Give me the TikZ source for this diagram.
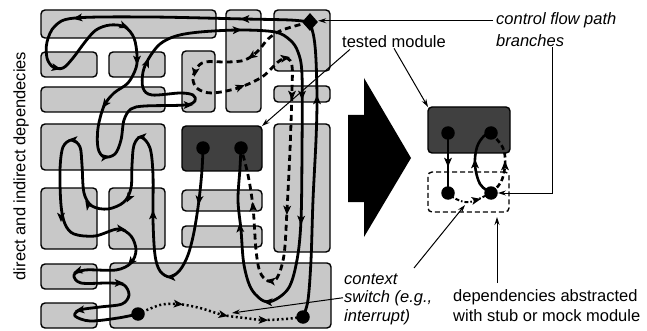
\documentclass[tikz,border=0pt]{standalone}
\usepackage{fontspec}
\setmainfont{Liberation Sans}
\usetikzlibrary{arrows.meta,shapes.geometric,calc}
\definecolor{boxgray}{RGB}{200,200,200}
\definecolor{modgray}{RGB}{64,64,64}
\newcommand\mkbox[5]{\node[box, minimum width={(#4-#2)*1pt}, minimum height={(#5-#3)*1pt}] (#1) at (#2,#3) {};}
\newcommand\fa[3]{\fill[shift={(#1,#2)}, rotate=#3, x=1pt, y=1pt] (5,0) -- (-4.4,4) -- (-2,0) -- (-4.4,-4) -- cycle;}
\begin{document}
\begin{tikzpicture}[x=1pt,y=-1pt,
  box/.style={draw=black, fill=boxgray, line width=1.4pt, rounded corners=4pt, inner sep=0pt, outer sep=0pt, anchor=north west},
  dot/.style={circle, fill=black, inner sep=0pt, minimum size=13.5pt},
  flow/.style={line width=2.8pt, line cap=round, line join=round},
  dashflow/.style={line width=2.8pt, dash pattern=on 6pt off 4pt},
  dotflow/.style={line width=2.5pt, dash pattern=on 2pt off 2.6pt},
  lbl/.style={font=\fontsize{16.5}{19}\selectfont, inner sep=0pt},
  itl/.style={font=\fontsize{16.5}{19}\selectfont\itshape, inner sep=0pt},
  ann/.style={line width=1pt, -{Stealth[length=8pt,width=5pt]}}
]
\useasboundingbox (0,0) rectangle (647,331);

% modules of the left system
\mkbox{b1}{41}{10}{216}{38}
\mkbox{b2}{226}{10}{261}{112}
\mkbox{b3}{274}{10}{330}{71}
\mkbox{b4}{41}{52}{97}{77}
\mkbox{b5}{109}{52}{165}{77}
\mkbox{b6}{182}{51}{215}{112}
\mkbox{b7}{41}{87}{165}{112}
\mkbox{b8}{274}{86}{330}{102}
\mkbox{b9}{41}{124}{165}{170}
\mkbox{b10}{274}{124}{330}{252}
\mkbox{b11}{41}{188}{97}{249}
\mkbox{b12}{109}{188}{165}{249}
\mkbox{b13}{182}{190}{262}{211}
\mkbox{b14}{182}{226}{262}{247}
\mkbox{b15}{41}{264}{97}{289}
\mkbox{b16}{41}{303}{97}{328}
\mkbox{b17}{110}{263}{331}{328}
\node[box, fill=modgray, minimum width=80pt, minimum height=45pt] (tested) at (182,126) {};

% modules of the right system
\node[box, fill=modgray, minimum width=82pt, minimum height=46pt] (rtested) at (428,107) {};
\node[box, fill=none, dash pattern=on 5pt off 3pt, minimum width=81pt, minimum height=40pt] (mock) at (428,172) {};

% anchor points of the flows
\coordinate (ldc) at (203,148);
\coordinate (rdc) at (241,148);
\coordinate (bldc) at (138,314);
\coordinate (brdc) at (303,317);
\coordinate (diac) at (310,22);
\coordinate (r1c) at (448,133);
\coordinate (r2c) at (491,133);
\coordinate (r3c) at (448,193);
\coordinate (r4c) at (491,193);

% path from the left dot of the tested module
\draw[flow] plot[smooth, tension=0.55] coordinates {(ldc) (202,170) (199,200) (194,232) (188,255) (180,270) (170,277) (160,271) (155,255) (153,220) (153,175) (150,148) (141,137) (134,145) (132,165) (131,188) (124,202) (108,209) (92,206) (84,193) (82,165) (80,147) (72,140) (63,147) (60,170) (61,205) (65,224) (74,234) (95,236) (118,229) (131,236) (136,250) (131,263) (116,270) (85,270) (74,275) (81,283) (110,283) (124,285) (129,295) (122,304) (100,307) (80,310) (75,316) (90,321) (118,318) (bldc)};
\fa{199}{200}{-97} \fa{171}{277}{180} \fa{153}{215}{90} \fa{142}{137}{178}
\fa{129}{198}{-117} \fa{88}{205}{122} \fa{73}{140}{178} \fa{61}{217}{-90}
\fa{121}{229}{-8} \fa{131}{262}{-128} \fa{78}{271}{-162} \fa{119}{283}{0}
\fa{80}{310}{-172}

% solid branch from the decision to the right dot
\draw[flow] plot[smooth, tension=0.55] coordinates {(diac) (290,20) (245,19) (150,17) (75,18) (55,26) (47,42) (47,58) (53,67) (63,68) (73,58) (85,42) (96,30) (110,25) (125,27) (134,38) (137,55) (136,68) (128,83) (114,93) (104,106) (98,128) (98,148) (104,157) (115,154) (121,140) (124,120) (131,109) (145,106) (185,105) (195,101) (193,95) (180,93) (152,95) (143,88) (143,72) (149,58) (160,44) (176,36) (200,32) (240,30) (275,32) (290,40) (298,52) (302,75) (302,150) (301,220) (297,260) (288,289) (268,302) (252,290) (244,265) (241,230) (238,200) (240,168) (rdc)};
\fa{245}{19}{180} \fa{78}{18}{-172} \fa{56}{68}{-12} \fa{124}{26}{-20}
\fa{137}{60}{-90} \fa{105}{104}{-127} \fa{105}{157}{8} \fa{188}{105}{0}
\fa{147}{63}{67} \fa{237}{30}{3} \fa{302}{95}{-90} \fa{301}{220}{-92}
\fa{268}{302}{176} \fa{240}{228}{95}

% dashed branch from the decision to the right dot
\draw[dashflow] plot[smooth, tension=0.55] coordinates {(diac) (295,26) (280,31) (268,39) (258,51) (245,60) (228,62) (205,62) (196,69) (193,80) (198,89) (212,93) (238,88) (262,77) (278,62) (287,58) (292,66) (292,90) (290,150) (287,210) (284,255) (277,278) (268,281) (260,272) (256,250) (253,207) (248,175) (rdc)};
\fa{252}{56}{-145} \fa{195}{72}{-100} \fa{240}{87}{20} \fa{285}{58}{10}
\fa{292}{95}{-90} \fa{287}{210}{-92} \fa{271}{281}{172} \fa{253}{207}{94}

% return path to the decision
\draw[flow] plot[smooth, tension=0.55] coordinates {(brdc) (308,300) (311,260) (313,200) (316,140) (317,100) (316,60) (314,38) (diac)};
\fa{317}{100}{90}

% context switch
\draw[dotflow] plot[smooth, tension=0.55] coordinates {(bldc) (160,305) (178,304) (200,308) (223,315) (245,318) (263,320) (285,319) (brdc)};
\fa{178}{304}{-5} \fa{223}{315}{-12} \fa{263}{320}{-2}

% right system flows
\draw[flow, line width=2.6pt] (r1c) -- (r3c);
\fa{448}{162}{-90}
\draw[flow, line width=2.6pt] plot[smooth, tension=0.6] coordinates {(r4c) (480,184) (475,165) (477,147) (484,136) (r2c)};
\fa{475}{164}{90}
\draw[dashflow, line width=2.6pt, dash pattern=on 5pt off 3pt] plot[smooth, tension=0.6] coordinates {(r4c) (501,182) (505,165) (503,148) (r2c)};
\fa{505}{166}{90}
\draw[line width=2pt, dash pattern=on 4pt off 2pt on 1.5pt off 2pt] plot[smooth, tension=0.6] coordinates {(r3c) (456,199) (470,202) (r4c)};
\fa{476}{200}{12}

% dots and decision
\node[dot] (ld) at (ldc) {};
\node[dot] (rd) at (rdc) {};
\node[dot] (bl) at (bldc) {};
\node[dot] (br) at (brdc) {};
\node[diamond, fill=black, inner sep=0pt, minimum width=16pt, minimum height=18pt] (dia) at (diac) {};
\node[dot] (r1) at (r1c) {};
\node[dot] (r2) at (r2c) {};
\node[dot] (r3) at (r3c) {};
\node[dot] (r4) at (r4c) {};

% big arrow
\fill (348,115) -- (364,115) -- (364,78) -- (411,158) -- (364,237) -- (364,202) -- (348,202) -- cycle;

% labels
\node[lbl, rotate=90] (deps) at (21,166) {direct and indirect dependecies};
\node[lbl, anchor=base west] (tm) at (342,48) {tested module};
\node[itl, anchor=base west] (cf1) at (496,25) {control flow path};
\node[itl, anchor=base west] (cf2) at (496,47) {branches};
\node[itl, anchor=base west] (cs1) at (344,284) {context};
\node[itl, anchor=base west] (cs2) at (344,302) {switch (e.g.,};
\node[itl, anchor=base west] (cs3) at (344,321) {interrupt)};
\node[lbl, anchor=base west] (dp1) at (453,301) {dependencies abstracted};
\node[lbl, anchor=base west] (dp2) at (453,321) {with stub or mock module};

% annotation arrows
\draw[ann] ([xshift=-3pt]cf1.west) -- (cf1.west -| dia.east);
\draw[ann] ([xshift=-12pt]cf2.south east) |- (r4.east);
\draw[ann] ([xshift=8pt,yshift=-1pt]tm.south west) -- (tested.north east);
\draw[ann] (tm.south) -- (rtested.north west);
\coordinate (csA) at (414,268);
\coordinate (csB) at (465,205);
\coordinate (csC) at (232,313);
\draw[ann] (csA) -- (csB);
\draw[ann] ([xshift=-1pt]cs2.west) -- (csC);
\coordinate (dpA) at (497,283);
\draw[ann] (dpA) -- ([yshift=-5pt]dpA |- mock.south);
\end{tikzpicture}
\end{document}
